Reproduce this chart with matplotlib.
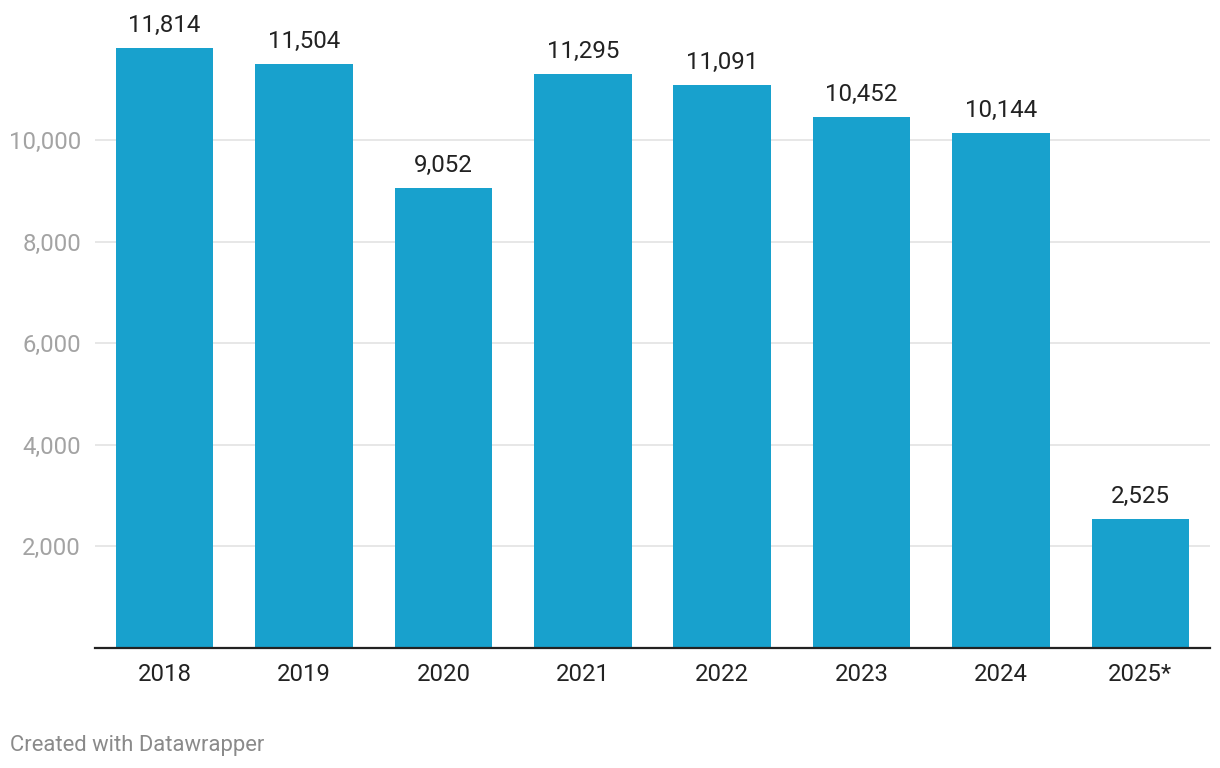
import numpy as np
import matplotlib.pyplot as plt

## data
years = ["2018", "2019", "2020", "2021", "2022", "2023", "2024", "2025*"]
values = [11814, 11504, 9052, 11295, 11091, 10452, 10144, 2525]
y_ticks = [2000, 4000, 6000, 8000, 10000]

plt.rcParams["font.family"] = ["Roboto", "DejaVu Sans"]

W, H = 1220, 768
fig = plt.figure(figsize=(W / 100, H / 100), dpi=100)

## axes placed in pixel terms (0 at y=647.5, 2,000 per 101.5 px)
px_per_unit = 101.5 / 2000
y_max = 12000
ax_left, ax_right = 95, 1210
ax_bottom_px = 647.5
ax_top_px = ax_bottom_px - y_max * px_per_unit
ax = fig.add_axes([ax_left / W, 1 - ax_bottom_px / H,
                   (ax_right - ax_left) / W, (ax_bottom_px - ax_top_px) / H])

x = np.arange(len(years))
bars = ax.bar(x, values, width=0.70, color="#18a1cd", zorder=2)

## value labels
for xi, v in zip(x, values):
    ax.annotate(f"{v:,}", (xi, v), xytext=(0, 8), textcoords="offset points",
                ha="center", va="bottom", fontsize=17.4, color="#222222")

ax.set_xlim(-0.5, len(years) - 0.5)
ax.set_ylim(0, y_max)

ax.set_yticks(y_ticks)
ax.set_yticklabels([f"{t:,}" for t in y_ticks])
ax.grid(axis="y", color="#e3e3e3", linewidth=1.2, zorder=0)
ax.set_xticks(x)
ax.set_xticklabels(years)

ax.tick_params(axis="y", length=0, pad=10, labelsize=17.2, labelcolor="#a3a3a3")
ax.tick_params(axis="x", length=0, pad=11, labelsize=17.2, labelcolor="#222222")

for side in ["top", "right", "left"]:
    ax.spines[side].set_visible(False)
ax.spines["bottom"].set_color("#222222")
ax.spines["bottom"].set_linewidth(1.6)
ax.spines["bottom"].set_zorder(3)

fig.text(10 / W, 1 - 745 / H, "Created with Datawrapper", fontsize=15.8,
         color="#8a8a8a", ha="left", va="center")

plt.savefig("out.png", dpi=100)
